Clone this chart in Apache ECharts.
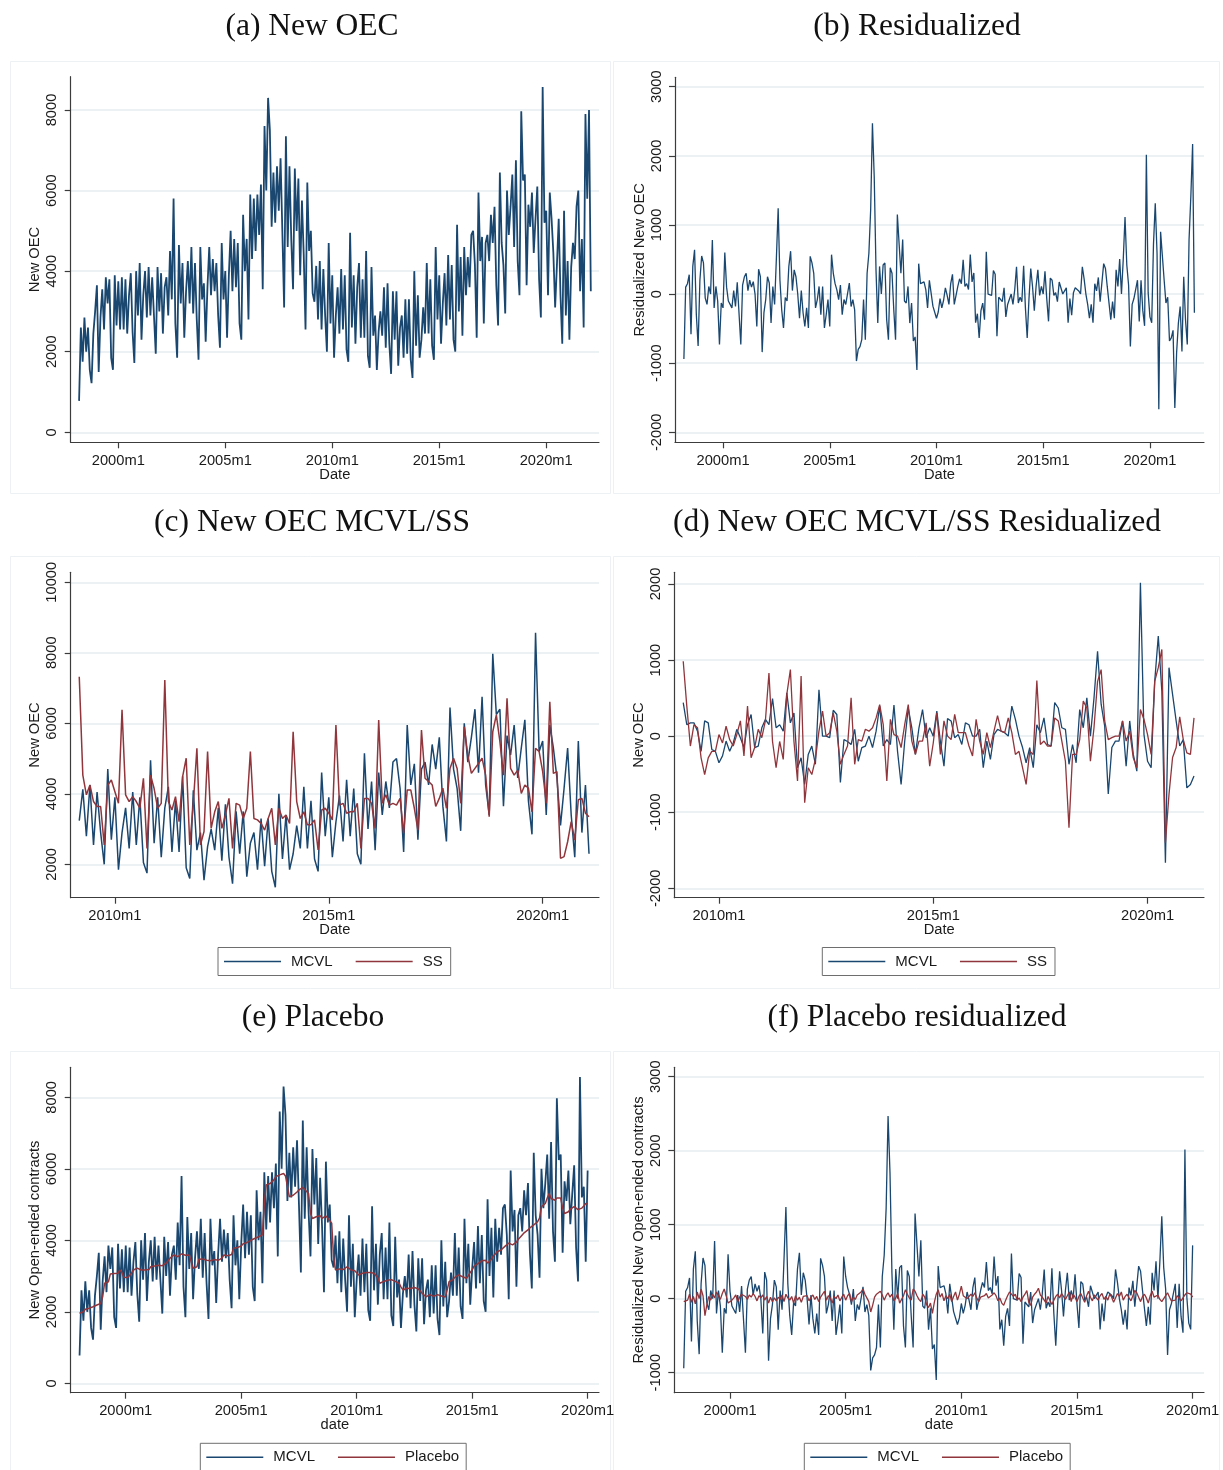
<!DOCTYPE html>
<html>
<head>
<meta charset="utf-8">
<script src="https://cdn.jsdelivr.net/npm/echarts@6/dist/echarts.min.js"></script>
<style>
html, body { margin: 0; padding: 0; background: #ffffff; }
#chart { width: 1223px; height: 1470px; }
</style>
</head>
<body>
<div id="chart"></div>
<script>
// Monthly dates are Stata %tm values: months since 1960m1.
const mcvlStart = 458;     // 1998m3
const ssStart = 590;       // 2009m3
const placeboStart = 456;  // 1998m1 (date variable used in the placebo panels)
const placeboLength = 265; // months shown in the placebo panels

// New open-ended contracts in the MCVL, 1998m3 - 2022m2
const mcvlNewOEC = [
  780, 2600, 1750, 2850, 2000, 2600, 1550, 1220, 2450, 3000, 3650, 1500,
  2850, 3550, 2550, 3850, 3200, 3800, 1850, 1550, 3900, 2650, 3750, 2550,
  3850, 2550, 3800, 2450, 3400, 3950, 2500, 1720, 4000, 2900, 4200, 2300,
  3400, 4000, 2850, 4100, 2900, 3850, 2900, 1950, 4100, 3000, 3950, 2450,
  3600, 3850, 2900, 4500, 3300, 5800, 2700, 1850, 4650, 3200, 4200, 2350,
  3500, 4250, 3200, 4600, 2950, 4200, 2800, 1800, 4600, 3300, 3700, 2250,
  3600, 4600, 3400, 4300, 3500, 4200, 2900, 2100, 4700, 3300, 4000, 2350,
  3900, 5000, 3500, 4800, 3600, 4700, 2700, 2300, 5400, 4000, 4800, 2800,
  5900, 4300, 5800, 4500, 5900, 4900, 6150, 3550, 7600, 6000, 8300, 7500,
  5100, 6450, 5200, 6600, 5500, 6800, 5000, 3100, 7350, 4600, 6600, 4800,
  3550, 6550, 5000, 6300, 3900, 5750, 4400, 2550, 6200, 4500, 5000, 3450,
  3240, 4130, 2800, 4250, 2550, 4050, 2900, 2000, 4700, 2700, 3900, 1850,
  2900, 3600, 2450, 4050, 2550, 3900, 2050, 1750, 4950, 2600, 3900, 2200,
  3600, 4200, 2350, 3800, 2350, 4500, 1900, 1600, 4100, 2400, 2900, 1550,
  2500, 3000, 2400, 3600, 2100, 3700, 2200, 1450, 3500, 2300, 3500, 1650,
  2600, 2900, 1850, 3300, 1950, 3300, 1800, 1350, 4000, 2150, 3400, 1850,
  2300, 3100, 2450, 4200, 2450, 3800, 2150, 1800, 4600, 2800, 3900, 2200,
  3200, 3950, 2650, 4400, 2800, 4150, 2300, 2000, 5150, 3000, 4350, 2400,
  4600, 3400, 4350, 3600, 4900, 5000, 4150, 2350, 5950, 4250, 4850, 2700,
  4700, 4900, 4250, 5400, 4700, 5600, 3650, 2650, 6450, 4700, 4150, 2950,
  6000, 4900, 5600, 6400, 4600, 6750, 4250, 3400, 7970, 6250, 6400, 3650,
  5650, 5100, 5950, 4450, 5300, 6100, 3800, 2850, 8570, 5200, 5500, 3400,
  5950, 5300, 4450, 3100, 4150, 5300, 3400, 2200, 5500, 2900, 4250, 2300,
  4100, 4700, 4300, 5600, 6000, 3500, 4800, 2600, 7900, 5800, 8000, 3500
];

// Residualized new open-ended contracts in the MCVL, 1998m3 - 2022m2
const mcvlResidual = [
  -940, 100, 150, 280, -580, 400, 640, -300, -750, 200, 550, 450,
  -60, -150, 110, 0, 780, -200, 110, -100, -730, -130, -200, 600,
  100, -100, -150, -200, 50, -180, 170, 160, -730, 130, 250, 300,
  50, 200, 100, 180, 0, -470, 360, 250, -840, -270, -80, 250,
  160, -420, 110, -150, 520, 1240, 200, -230, -490, -50, -100, 400,
  620, 50, 350, 250, 0, -350, 50, -270, -470, -200, -490, 545,
  450, 300, -200, -80, 110, -300, 110, -490, -300, -80, -470, 570,
  300, 150, 60, -80, 130, -300, -80, -150, -130, 160, -180, -80,
  -230, -970, -800, -760, -660, -80, -660, 300, 590, 1220, 2470, 1700,
  350, -420, 400, 0, 420, 450, -370, -660, 380, 300, -230, -660,
  1150, 1160, 300, 790, -100, -130, 110, -420, -130, -680, -620, -1100,
  440, 150, 175, 175, 65, -200, 200, 175, -175, -200, -350, -260,
  -65, -200, -90, 90, -20, -150, 150, 285, -150, -130, 110, 220,
  150, 495, 110, 150, 65, 570, 175, 305, -415, -285, -635, -240,
  -130, -370, 610, 0, 0, -20, 340, 285, -610, -45, -70, -110,
  90, -330, -150, -130, 0, -150, 65, 395, -130, -45, -110, 410,
  -200, -635, -70, 370, 110, -240, 110, 350, -20, 110, 0, 330,
  -70, -395, 230, 200, -20, 20, -110, 175, 150, 0, 0, 90,
  -415, -65, -305, 20, 90, 65, 45, 0, 395, 220, 0, -150,
  -350, -150, -415, 150, 45, 240, -110, -130, 440, 370, 110, 90,
  -370, -110, -350, 350, 110, 505, 0, 500, 1115, 420, 130, -760,
  -150, -65, -65, 200, -395, 200, -240, -460, 2015, 20, -330, -415,
  720, 1315, 590, -1665, 900, 550, 200, -130, -45, -680, -635, -525,
  -1650, -850, -420, -180, -830, 250, -370, -730, 790, 1410, 2170, -270
];

// New open-ended contracts in the SS register, 2009m3 - 2021m2
const ssNewOEC = [
  7320, 4530, 3970, 4250, 3780, 3640, 3640, 2550, 4250, 4390, 4060, 3730,
  6380, 3970, 3780, 3920, 3780, 3590, 4440, 2450, 4530, 4150, 3590, 3730,
  7230, 3780, 3540, 3920, 3210, 4490, 5010, 2550, 3730, 5290, 2550, 2930,
  5200, 3020, 3490, 3780, 3020, 3400, 3870, 2450, 3730, 3680, 3300, 3590,
  5200, 3300, 3260, 3160, 2970, 3300, 3590, 2550, 3590, 3300, 3400, 3160,
  5760, 3780, 3300, 3490, 3120, 3120, 3260, 2410, 3540, 3590, 3450, 3260,
  5950, 3680, 3730, 3450, 3490, 3490, 3730, 2450, 3870, 3870, 3730, 3020,
  6090, 3730, 3970, 3680, 3730, 3680, 3870, 2880, 4110, 4110, 3590, 2970,
  5810, 4440, 4350, 4250, 3640, 3870, 4160, 3590, 4720, 5010, 4720, 3730,
  5900, 5100, 4580, 4720, 4860, 5010, 4530, 3350, 5760, 6240, 5480, 4530,
  6710, 4720, 4530, 4670, 4010, 4250, 4160, 3490, 5290, 5200, 4630, 3730,
  6610, 4580, 4630, 2170, 2220, 2640, 3210, 2690, 3830, 3870, 3450, 3350
];

// Residualized SS series, 2009m3 - 2021m2
const ssResidual = [
  985, 395, -130, 150, 110, -285, -505, -285, -200, -200, 20, -90,
  130, -45, -130, 20, 200, -260, 395, -285, -150, 90, -20, 200,
  830, -70, -415, -70, -305, 550, 875, -70, -590, 790, -875, -415,
  -505, -305, 65, 330, 0, 45, 305, 65, -370, -240, -130, 505,
  -370, -45, -65, 90, 65, 110, 240, 415, 150, -590, 220, 20,
  0, -150, 150, 415, -65, -240, -65, -65, 175, -395, -90, 305,
  -240, 200, 0, -45, 285, 45, 45, 45, -130, -260, 220, -65,
  -240, 45, -150, 65, 270, 65, 45, 240, 45, -240, -200, -415,
  -635, -200, -240, 730, -110, -65, -130, -130, 240, 200, -65, -330,
  -1205, -240, -240, -45, 460, 370, -330, 110, 720, 875, 200, -45,
  -20, 0, 0, 200, -65, 65, -285, -415, 350, 220, 20, -240,
  720, 900, 1140, -1400, -765, -280, -150, 255, -45, -220, -240, 240
];

// Placebo contracts, 1998m1 onwards
const placeboNewOEC = [
  1960, 1980, 2000, 2070, 2080, 2100, 2130, 2140, 2170, 2190, 2240, 2230,
  2420, 2800, 2820, 2840, 3060, 3050, 3070, 3040, 3080, 3170, 3100, 2965,
  2980, 2960, 3000, 3080, 3170, 3200, 3220, 3190, 3170, 3160, 3170, 3130,
  3180, 3260, 3250, 3280, 3270, 3300, 3310, 3290, 3280, 3360, 3400, 3500,
  3550, 3590, 3560, 3540, 3590, 3620, 3600, 3580, 3610, 3590, 3560, 3220,
  3230, 3260, 3470, 3460, 3480, 3450, 3440, 3420, 3430, 3440, 3460, 3450,
  3440, 3470, 3500, 3590, 3560, 3570, 3550, 3600, 3780, 3790, 3800, 3820,
  3840, 3900, 3920, 3940, 3960, 4000, 4030, 4050, 4060, 4100, 4090, 4150,
  5030, 5550, 5560, 5590, 5620, 5690, 5780, 5800, 5830, 5850, 5870, 5800,
  5780, 5220, 5230, 5260, 5310, 5350, 5410, 5430, 5480, 5420, 5400, 5310,
  4750, 4610, 4640, 4660, 4710, 4690, 4610, 4650, 4680, 4620, 4570, 4480,
  3540, 3170, 3220, 3200, 3170, 3180, 3200, 3260, 3220, 3170, 3180, 3150,
  3100, 3030, 3060, 3080, 3090, 3100, 3110, 3100, 3090, 3080, 3060, 2950,
  2800, 2830, 2850, 2870, 2880, 2890, 2900, 2880, 2850, 2830, 2800, 2700,
  2610, 2640, 2660, 2660, 2650, 2670, 2680, 2660, 2640, 2580, 2520, 2480,
  2420, 2450, 2480, 2460, 2430, 2440, 2480, 2460, 2440, 2420, 2410, 2610,
  2840, 2870, 2900, 2965, 3010, 3030, 3000, 2980, 2960, 2940, 3010, 3100,
  3170, 3280, 3310, 3350, 3380, 3430, 3450, 3440, 3360, 3400, 3470, 3560,
  3620, 3680, 3720, 3730, 3780, 3830, 3880, 3920, 3900, 3870, 3880, 3950,
  4030, 4080, 4150, 4210, 4260, 4290, 4350, 4400, 4430, 4470, 4520, 4620,
  4940, 4990, 5030, 5180, 5310, 5170, 5140, 5120, 5180, 5220, 5180, 4900,
  4750, 4770, 4800, 4870, 4900, 4940, 4900, 4860, 4880, 4900, 4960, 5030,
  5020
];

// Residualized placebo contracts, 1998m1 onwards
const placeboResidual = [
  -40, -30, -20, 60, -50, 30, -70, 90, 0, 130, 40, -230,
  -80, 30, -20, 60, 10, 90, 40, -10, 70, 130, 40, -60,
  -80, -20, 10, 50, -40, 20, 60, 40, 30, -10, 50, 20,
  70, 30, -30, 40, 10, 50, -20, 30, -60, 20, -40, 10,
  -30, 20, -10, 50, -40, 60, 10, -20, 30, -60, 40, -20,
  20, -50, 30, 10, 40, -30, 20, 50, -10, 30, -40, 20,
  30, 100, -20, 40, 10, -60, 30, 0, 50, -30, 20, 60,
  -20, 40, 70, -40, 20, -10, 50, 30, 90, 130, 60, 10,
  -40, -180, -90, 20, 60, 40, 100, 50, -20, 40, 80, 20,
  60, -30, 10, 70, -60, -80, 40, 120, 60, 10, -20, 130,
  100, 40, -10, -40, 60, 20, -80, -120, -60, -200, -50, 60,
  120, 20, 70, -30, 40, 0, 60, -40, 30, 90, -20, 60,
  170, 40, 50, 0, -20, 60, 30, 80, 10, -40, 20, 0,
  40, 70, 10, -10, 50, 80, 40, -30, 10, -60, -90, -20,
  40, 90, 100, 30, 60, -20, 10, -40, 20, 60, 110, -50,
  -90, 20, 60, 90, 140, 50, 20, -20, -60, 30, 40, -80,
  -20, 30, 60, 10, 70, 30, -10, 40, 90, -40, 60, 20,
  -40, 30, 70, 10, -50, 40, 100, 20, -30, 50, 10, -20,
  40, 70, -10, 30, -20, 60, 20, -50, 10, 70, 30, 90,
  -20, 30, 60, 10, -30, 40, 110, 80, 20, -40, 30, 60,
  10, -60, 40, 100, 20, 0, 50, -10, -40, -30, 40, 80,
  20, -30, -50, -20, 40, 60, -30, 10, 50, 80, 100, 60,
  20
];

// Axis ticks
const dateTicksLong = [480, 540, 600, 660, 720];   // 2000m1 ... 2020m1
const dateTicksShort = [600, 660, 720];            // 2010m1, 2015m1, 2020m1
const ticksLevel = [0, 2000, 4000, 6000, 8000];
const ticksLevelSS = [2000, 4000, 6000, 8000, 10000];
const ticksResid = [-2000, -1000, 0, 1000, 2000, 3000];
const ticksResidSS = [-2000, -1000, 0, 1000, 2000];
const ticksResidPlacebo = [-1000, 0, 1000, 2000, 3000];

// Panel titles
const panelTitles = ['(a) New OEC', '(b) Residualized', '(c) New OEC MCVL/SS',
  '(d) New OEC MCVL/SS Residualized', '(e) Placebo', '(f) Placebo residualized'];

const NAVY = '#1a476f';
const MAROON = '#90353b';
const AXIS_COLOR = '#3c3c3c';
const GRID_COLOR = '#e6eef1';
const SANS = '"Liberation Sans", Arial, Helvetica, sans-serif';
const SERIF = '"Liberation Serif", "Times New Roman", serif';

const monthLabel = v => (1960 + Math.floor(v / 12)) + 'm' + (((Math.round(v) % 12) + 12) % 12 + 1);
const plainNumber = v => String(Math.round(v));
const monthly = (start, values) => values.map((v, i) => [start + i, v]);

const chart = echarts.init(document.getElementById('chart'), null, { renderer: 'canvas' });

// Layout of each plot region: left, top, width, height, axis ranges
const panels = [
  { box: [70.7, 76.7, 528.3, 365.6], x: [453.3, 749.6], y: [-248, 8826], xt: dateTicksLong, yt: ticksLevel, xName: 'Date', yName: 'New OEC' },
  { box: [675, 77.3, 529, 365], x: [453.0, 750.4], y: [-2145, 3136], xt: dateTicksLong, yt: ticksResid, xName: 'Date', yName: 'Residualized New OEC' },
  { box: [70.7, 572.3, 528.3, 325.4], x: [587.6, 735.8], y: [1053, 10283], xt: dateTicksShort, yt: ticksLevelSS, xName: 'Date', yName: 'New OEC' },
  { box: [674.3, 572.3, 529.7, 325.4], x: [587.5, 735.8], y: [-2124, 2154], xt: dateTicksShort, yt: ticksResidSS, xName: 'Date', yName: 'New OEC' },
  { box: [70.7, 1067.3, 528.3, 325.4], x: [451.4, 725.9], y: [-263, 8839], xt: dateTicksLong, yt: ticksLevel, xName: 'date', yName: 'New Open-ended contracts' },
  { box: [674.3, 1067.3, 529.7, 325.4], x: [451.1, 725.9], y: [-1271, 3127], xt: dateTicksLong, yt: ticksResidPlacebo, xName: 'date', yName: 'Residualized New Open-ended contracts' }
];

const grid = [], xAxis = [], yAxis = [];
panels.forEach((p, i) => {
  grid.push({ left: p.box[0], top: p.box[1], width: p.box[2], height: p.box[3], outerBoundsMode: 'none', containLabel: false });
  xAxis.push({
    type: 'value', gridIndex: i, min: p.x[0], max: p.x[1],
    axisLine: { show: true, onZero: false, lineStyle: { color: AXIS_COLOR, width: 1.2 } },
    axisTick: { show: true, length: 6, customValues: p.xt, lineStyle: { color: AXIS_COLOR, width: 1.2 } },
    axisLabel: { customValues: p.xt, formatter: monthLabel, margin: 11, fontSize: 14.7, fontFamily: SANS, color: '#1a1a1a' },
    splitLine: { show: false },
    name: p.xName, nameLocation: 'middle', nameGap: 25, nameMoveOverlap: false,
    nameTextStyle: { fontSize: 14.7, fontFamily: SANS, color: '#1a1a1a' }
  });
  yAxis.push({
    type: 'value', gridIndex: i, min: p.y[0], max: p.y[1],
    axisLine: { show: true, onZero: false, lineStyle: { color: AXIS_COLOR, width: 1.2 } },
    axisTick: { show: true, length: 6, customValues: p.yt, lineStyle: { color: AXIS_COLOR, width: 1.2 } },
    axisLabel: { customValues: p.yt, formatter: plainNumber, rotate: 90, margin: 11, fontSize: 14.7, fontFamily: SANS, color: '#1a1a1a' },
    splitLine: { show: true, lineStyle: { color: GRID_COLOR, width: 1.5 } },
    name: p.yName, nameLocation: 'middle', nameGap: 28, nameRotate: 90, nameMoveOverlap: false,
    nameTextStyle: { fontSize: 14.7, fontFamily: SANS, color: '#1a1a1a' }
  });
});

const line = (name, idx, data, color, width, z) => ({
  name, type: 'line', xAxisIndex: idx, yAxisIndex: idx, data,
  symbol: 'none', showSymbol: false, silent: true, animation: false, z: z || 2,
  lineStyle: { color, width }, itemStyle: { color }
});

const ssOffset = ssStart - mcvlStart;
const series = [
  line('New OEC', 0, monthly(mcvlStart, mcvlNewOEC), NAVY, 1.8),
  line('Residualized New OEC', 1, monthly(mcvlStart, mcvlResidual), NAVY, 1.3),
  line('MCVL', 2, monthly(ssStart, mcvlNewOEC.slice(ssOffset, ssOffset + ssNewOEC.length)), NAVY, 1.5),
  line('SS', 2, monthly(ssStart, ssNewOEC), MAROON, 1.5, 3),
  line('MCVL', 3, monthly(ssStart, mcvlResidual.slice(ssOffset, ssOffset + ssResidual.length)), NAVY, 1.3),
  line('SS', 3, monthly(ssStart, ssResidual), MAROON, 1.3, 3),
  line('MCVL', 4, monthly(placeboStart, mcvlNewOEC.slice(0, placeboLength)), NAVY, 1.8),
  line('Placebo', 4, monthly(placeboStart, placeboNewOEC), MAROON, 1.5, 3),
  line('MCVL', 5, monthly(placeboStart, mcvlResidual.slice(0, placeboLength)), NAVY, 1.3),
  line('Placebo', 5, monthly(placeboStart, placeboResidual), MAROON, 1.3, 3)
];

// Legends: plain line keys inside a framed box
const legendBase = {
  orient: 'horizontal', selectedMode: false, icon: 'rect', itemWidth: 57, itemHeight: 1.6,
  borderColor: '#6e6e6e', borderWidth: 1, backgroundColor: '#ffffff',
  textStyle: { fontSize: 15, fontFamily: SANS, color: '#1a1a1a', padding: [0, 0, 0, 5], lineHeight: 16 }
};
const legend = [
  Object.assign({}, legendBase, { data: ['MCVL', 'SS'], left: 218, top: 947.5, padding: [6, 8, 6, 6], itemGap: 23 }),
  Object.assign({}, legendBase, { data: ['MCVL', 'SS'], left: 822.3, top: 947.5, padding: [6, 8, 6, 6], itemGap: 23 }),
  Object.assign({}, legendBase, { data: ['MCVL', 'Placebo'], left: 200.3, top: 1443.3, padding: [6, 7, 6, 6], itemGap: 23 }),
  Object.assign({}, legendBase, { data: ['MCVL', 'Placebo'], left: 804.3, top: 1443.3, padding: [6, 7, 6, 6], itemGap: 23 })
];

// Panel frames and titles
const frameRects = [
  [10, 61, 600, 432], [613, 61, 606, 432],
  [10, 556, 600, 432], [613, 556, 606, 432],
  [10, 1051, 600, 432], [613, 1051, 606, 432]
];
const titlePos = [[312, 27], [917, 27], [312, 523], [917, 523], [313, 1018], [917, 1018]];
const graphic = [];
frameRects.forEach(r => graphic.push({
  type: 'rect', silent: true, z: -10,
  shape: { x: r[0] + 0.5, y: r[1] + 0.5, width: r[2], height: r[3] },
  style: { fill: 'none', stroke: '#edf1f4', lineWidth: 1 }
}));
panelTitles.forEach((t, i) => graphic.push({
  type: 'text', silent: true, x: titlePos[i][0], y: titlePos[i][1],
  style: { text: t, fontFamily: SERIF, fontSize: 31.5, fill: '#111111', align: 'center', verticalAlign: 'middle' }
}));

chart.setOption({
  backgroundColor: '#ffffff',
  animation: false,
  grid, xAxis, yAxis, series, legend, graphic
});
</script>
</body>
</html>
